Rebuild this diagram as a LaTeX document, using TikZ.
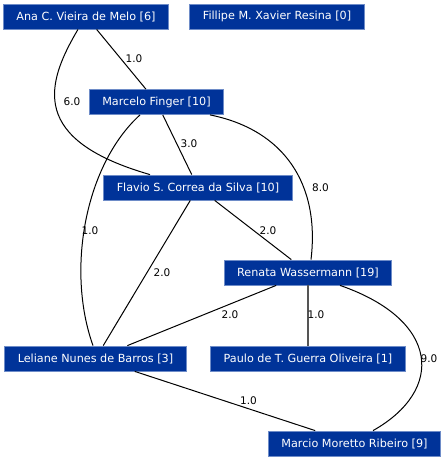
\documentclass[tikz,border=0pt]{standalone}
\usepackage{fontspec}
\setmainfont{DejaVu Sans}
\definecolor{boxblue}{RGB}{0,51,153}
\definecolor{boxrim}{RGB}{110,140,200}
\definecolor{thickgray}{RGB}{85,85,85}

\begin{document}
\begin{tikzpicture}[x=1pt,y=-1pt,
  author/.style={draw=boxrim,fill=boxblue,text=white,line width=.8pt,
    minimum height=25pt,inner xsep=13pt,inner ysep=0pt,font=\fontsize{11.2}{13}\selectfont},
  lbl/.style={inner sep=0pt,font=\fontsize{10.5}{12}\selectfont},
  link/.style={line width=1pt}]
\useasboundingbox(0,0)rectangle(445,461);
% authors
\node[author](ana)at(86,16.5){Ana C. Vieira de Melo [6]};
\node[author](fillipe)at(277,16.5){Fillipe M. Xavier Resina [0]};
\node[author](marcelo)at(156.5,102){Marcelo Finger [10]};
\node[author](flavio)at(198,187.5){Flavio S. Correa da Silva [10]};
\node[author](renata)at(308,272.5){Renata Wassermann [19]};
\node[author](leliane)at(95.5,358.5){Leliane Nunes de Barros [3]};
\node[author](paulo)at(308,358.5){Paulo de T. Guerra Oliveira [1]};
\node[author](marcio)at(354.5,443.5){Marcio Moretto Ribeiro [9]};
% co-authorships
\begin{scope}[on background layer/.try]
\draw[link](ana)--(marcelo);
\draw[link]([xshift=-8pt]ana.south)..controls(45,85)and(30,140)..([xshift=-48pt]flavio.north);
\draw[link](marcelo)--(flavio);
\draw[link]([xshift=-16.5pt]marcelo.south)..controls(85,165)and(66,270)..([xshift=-2.5pt]leliane.north);
\draw[link]([xshift=53.5pt]marcelo.south)..controls(285,130)and(320,185)..([xshift=3pt]renata.north);
\draw[link](flavio)--(leliane);
\draw[link](flavio)--(renata);
\draw[link](renata)--(leliane);
\draw[link,draw=thickgray,line width=1.6pt](renata)--(paulo);
\draw[link]([xshift=32pt]renata.south)..controls(440,320)and(445,390)..([xshift=18.5pt]marcio.north);
\draw[link](leliane)--(marcio);
\end{scope}
% weights
\node[lbl](w1)at(134,59){1.0};
\node[lbl](w2)at(72,102){6.0};
\node[lbl](w3)at(189,144){3.0};
\node[lbl](w4)at(320.5,187.5){8.0};
\node[lbl](w5)at(90,230.5){1.0};
\node[lbl](w6)at(268,230.5){2.0};
\node[lbl](w7)at(162,272.5){2.0};
\node[lbl](w8)at(230,315){2.0};
\node[lbl](w9)at(316,315){1.0};
\node[lbl](w10)at(429,358.5){9.0};
\node[lbl](w11)at(248.5,400.5){1.0};
\end{tikzpicture}
\end{document}
